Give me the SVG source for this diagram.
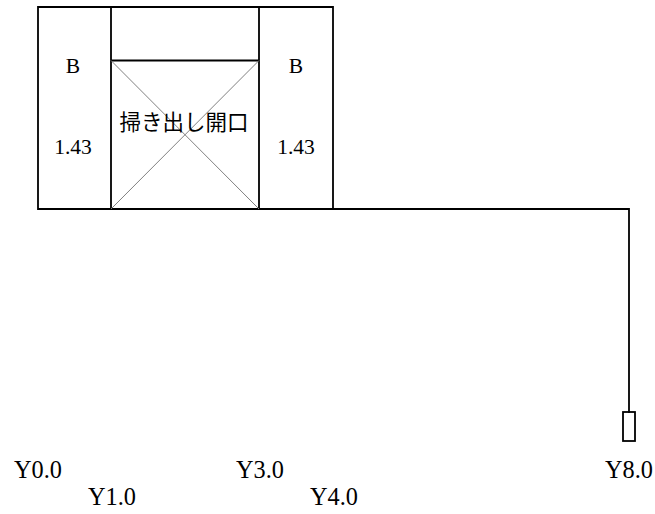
<svg xmlns="http://www.w3.org/2000/svg" width="655" height="514" viewBox="0 0 655 514">
<style>
.w{fill:none;stroke:#000;stroke-width:1.8}
.x{fill:none;stroke:#808080;stroke-width:1}
.t{font-family:"Liberation Serif",serif;fill:#000;text-anchor:middle}
.s{font-size:21.500px}
.l{font-size:24.300px}
.j{font-family:"Noto Sans CJK JP",sans-serif;font-size:21.500px;text-anchor:middle;fill:#000}
</style>
<rect width="655" height="514" fill="#fff"/>
<g id="connectors">
<path class="w" d="M38 7H333V209H38ZM111 7V209M259 7V209M111 60.500H259"/>
<path class="w" d="M333 209H629V413"/>
<path class="x" d="M111 60.500L259 209M259 60.500L111 209"/>
</g>
<g id="post"><rect class="w" x="623" y="412" width="12" height="29"/></g>
<g id="left"><text class="t s" x="73" y="72.500">B</text><text class="t s" x="73" y="154">1.43</text></g>
<g id="opening"><text class="j" x="184" y="130">掃き出し開口</text></g>
<g id="right"><text class="t s" x="296" y="72.500">B</text><text class="t s" x="296" y="154">1.43</text></g>
<g id="axes">
<text class="t l" x="38" y="478">Y0.0</text>
<text class="t l" x="112" y="505">Y1.0</text>
<text class="t l" x="260" y="478">Y3.0</text>
<text class="t l" x="334" y="505">Y4.0</text>
<text class="t l" x="629" y="478">Y8.0</text>
</g>
</svg>
